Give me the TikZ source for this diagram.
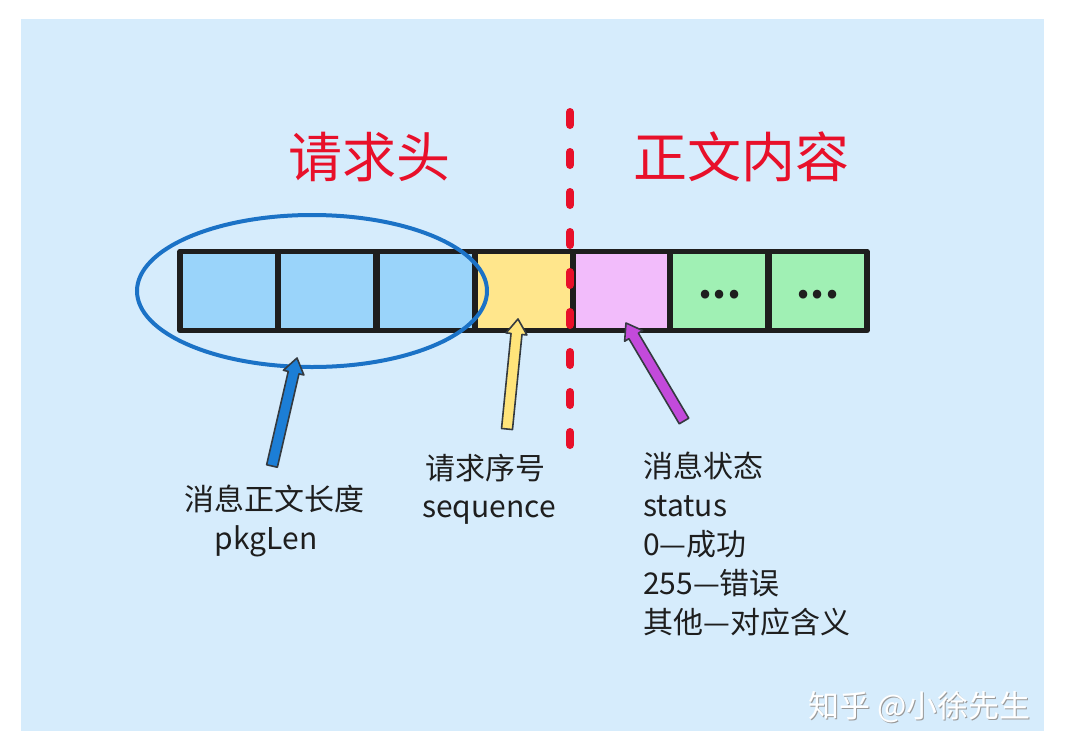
\documentclass[tikz,border=0pt]{standalone}
\usepackage{fontspec}
\setmainfont{Noto Sans CJK SC}
\usetikzlibrary{calc}
\definecolor{bgblue}{HTML}{D6ECFC}
\definecolor{titlered}{HTML}{E8102A}
\definecolor{boxblue}{HTML}{9AD4FA}
\definecolor{boxyellow}{HTML}{FFE68C}
\definecolor{boxpink}{HTML}{F2BCFB}
\definecolor{boxgreen}{HTML}{A0F0B4}
\definecolor{ellblue}{HTML}{1B72C6}
\definecolor{arrblue}{HTML}{1C7ED6}
\definecolor{arryellow}{HTML}{FFE47A}
\definecolor{arrpurple}{HTML}{C34ADB}
\definecolor{outline}{HTML}{343A40}
\definecolor{ink}{HTML}{1E1E1E}
\newcommand\drawfatarrow[3]{%
  \coordinate (hb) at ($(#3)!15pt!(#2)$);
  \filldraw[fill=#1, draw=outline, line width=1.6pt, line join=round]
    ($(#2)!5.5pt!90:(#3)$) -- ($(hb)!5.5pt!90:(#3)$) -- ($(hb)!10.5pt!90:(#3)$) -- (#3)
    -- ($(hb)!10.5pt!-90:(#3)$) -- ($(hb)!5.5pt!-90:(#3)$) -- ($(#2)!5.5pt!-90:(#3)$) -- cycle;}
\tikzset{
  cell/.style={draw=ink, line width=5.5pt, minimum width=98pt, minimum height=79pt, inner sep=0pt, line join=round},
  title/.style={text=titlered, font=\fontsize{54}{60}\selectfont, inner sep=0pt},
  label/.style={text=ink, font=\fontsize{30}{38}\selectfont, inner sep=0pt},
  dots/.style={text=ink, font=\fontsize{40}{40}\selectfont\bfseries, inner sep=0pt},
  divider/.style={draw=titlered, line width=8pt, line cap=round, dash pattern=on 13pt off 27pt},
}
\begin{document}
\begin{tikzpicture}[x=1pt,y=-1pt]
\useasboundingbox (0,0) rectangle (1065,753);
\fill[white] (0,0) rectangle (1065,753);
\fill[bgblue] (21,19) rectangle (1044,731);

% titles
\node[title] (t1) at (369,157) {请求头};
\node[title] (t2) at (741,157) {正文内容};

% cells
\node[cell, fill=boxblue] (b1) at (229,291) {};
\node[cell, fill=boxblue] (b2) at (327,291) {};
\node[cell, fill=boxblue] (b3) at (426,291) {};
\node[cell, fill=boxyellow] (b4) at (524,291) {};
\node[cell, fill=boxpink] (b5) at (622,291) {};
\node[cell, fill=boxgreen] (b6) at (719,291) {};
\node[cell, fill=boxgreen] (b7) at (818,291) {};
\node[dots] (d1) at ($(b6)+(1,4)$) {...};
\node[dots] (d2) at ($(b7)+(0,4)$) {...};

% ellipse
\draw[ellblue, line width=4pt] (312,291) ellipse [x radius=175, y radius=76];

% divider
\coordinate (dtop) at (570,112);
\coordinate (dbot) at (570,446);
\draw[divider] (dtop) -- (dbot);

% arrows
\coordinate (a1tail) at (272,466);
\coordinate (a1tip) at (297,358);
\coordinate (a2tail) at (507,429);
\coordinate (a2tip) at (518,319);
\coordinate (a3tail) at (684,421);
\coordinate (a3tip) at (626,323);
\drawfatarrow{arrblue}{a1tail}{a1tip}
\drawfatarrow{arryellow}{a2tail}{a2tip}
\drawfatarrow{arrpurple}{a3tail}{a3tip}

% labels
\node[label] (l1) at (274,499) {消息正文长度};
\node[label] (l2) at (266,541) {pkgLen};
\node[label] (l3) at (485,468) {请求序号};
\node[label] (l4) at (489,513) {sequence};
\node[label, anchor=west] (r1) at (643,466) {消息状态};
\node[label, anchor=west] (r2) at (643,506) {status};
\node[label, anchor=west] (r3) at (643,544) {0—成功};
\node[label, anchor=west] (r4) at (643,583) {255—错误};
\node[label, anchor=west] (r5) at (643,622) {其他—对应含义};

% watermark
\node[text=black!40, font=\fontsize{31}{31}\selectfont, inner sep=0pt, anchor=west] (wms) at (809.5,708.5) {知乎 @小徐先生};
\node[text=white, font=\fontsize{31}{31}\selectfont, inner sep=0pt, anchor=west] (wm) at (808,707) {知乎 @小徐先生};
\end{tikzpicture}
\end{document}
